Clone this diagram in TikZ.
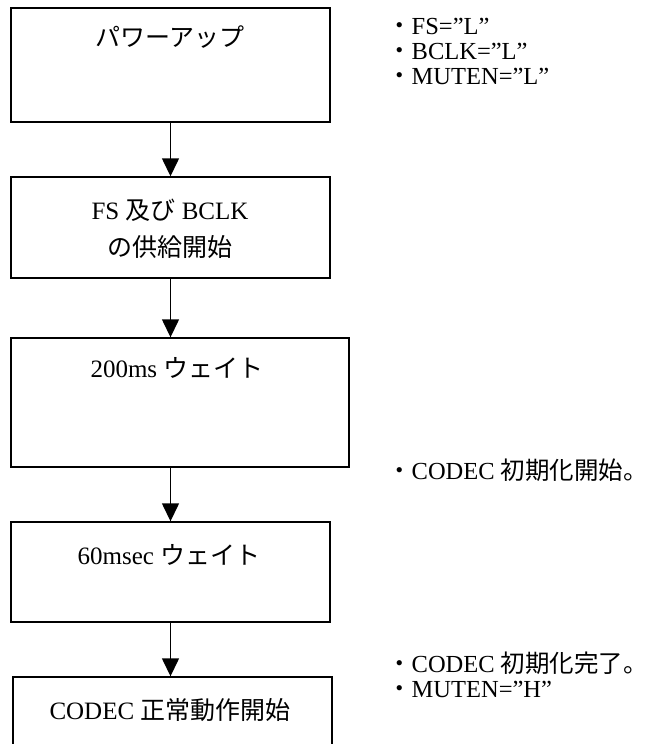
\documentclass[tikz,border=0pt]{standalone}
\usepackage{fontspec}
\setmainfont{Liberation Serif}
\newfontfamily\jp{Noto Sans CJK JP}
\usetikzlibrary{arrows.meta}
\tikzset{
  stepbox/.style={draw, line width=1.4pt, minimum width=319pt, inner sep=0pt},
  flow/.style={-{Triangle[width=17pt,length=18pt]}, line width=1.4pt},
  txt/.style={font=\fontsize{25}{37}\selectfont, align=center, inner sep=0pt},
  note/.style={font=\fontsize{24.5}{25}\selectfont, align=left, anchor=west, inner sep=0pt}
}

\begin{document}
\begin{tikzpicture}[x=1pt,y=-1pt]
		\clip (0,0) rectangle (657,744);
		\draw (170.5,65) node[stepbox,minimum height=114pt](pwr) {};
		\draw (170.5,227.5) node[stepbox,minimum height=101pt](clk) {};
		\draw (180,402.5) node[stepbox,minimum width=338pt,minimum height=129pt](wait) {};
		\draw (170.5,572) node[stepbox,minimum height=100pt](settle) {};
		\draw (172.5,733.5) node[stepbox,minimum height=113pt](run) {};
		\node[txt] (pwrtxt) at (170,37) {\jp パワーアップ};
		\node[txt] (clktxt) at (170,228.5) {FS {\jp 及び} BCLK\\{\jp の供給開始}};
		\node[txt] (waittxt) at (177,368) {200ms {\jp ウェイト}};
		\node[txt] (settletxt) at (169,555) {60msec {\jp ウェイト}};
		\node[txt] (runtxt) at (170,710) {CODEC {\jp 正常動作開始}};
        \draw[flow] (pwr.south) -- (pwr.south |- clk.north);
        \draw[flow] (clk.south) -- (clk.south |- wait.north);
        \draw[flow] (clk.south |- wait.south) -- (clk.south |- settle.north);
        \draw[flow] (settle.south) -- (settle.south |- run.north);
		\node[note] (pwrnote) at (387,51.5) {{\jp ・}FS=”L”\\{\jp ・}BCLK=”L”\\{\jp ・}MUTEN=”L”};
		\node[note] (initnote) at (387,470) {{\jp ・}CODEC {\jp 初期化開始。}};
		\node[note] (donenote) at (387,674.5) {{\jp ・}CODEC {\jp 初期化完了。}\\{\jp ・}MUTEN=”H”};
    \end{tikzpicture}
\end{document}
